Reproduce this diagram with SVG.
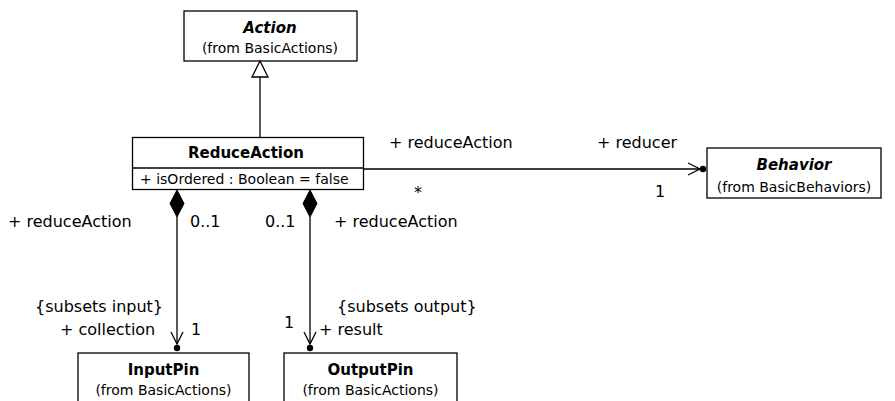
<svg xmlns="http://www.w3.org/2000/svg" width="895" height="401" viewBox="0 0 895 401">
<defs>
<style>
.box{fill:#fff;stroke:#000;stroke-width:1.3}
.ln{fill:none;stroke:#000;stroke-width:1.3}
text{font-family:"DejaVu Sans",Verdana,sans-serif;fill:#000}
.nm{font-size:15px;font-weight:bold;text-anchor:middle}
.ab{font-size:15px;font-weight:bold;font-style:italic;text-anchor:middle}
.fr{font-size:14px;text-anchor:middle}
.at{font-size:14px}
.lb{font-size:16px}
</style>
<marker id="open" markerWidth="16" markerHeight="14" refX="13" refY="7" orient="auto" markerUnits="userSpaceOnUse">
<path d="M1,1 L13,7 L1,13" fill="none" stroke="#000" stroke-width="1.3"/>
</marker>
</defs>
<g id="Action">
<rect class="box" x="184" y="11" width="173" height="50"/>
<text class="ab" x="270" y="33">Action</text>
<text class="fr" x="270" y="53">(from BasicActions)</text>
</g>
<g id="ReduceAction">
<rect class="box" x="132.5" y="137.5" width="231" height="52"/>
<line class="ln" x1="132.5" y1="168" x2="363.5" y2="168"/>
<text class="nm" x="246" y="158">ReduceAction</text>
<text class="at" x="140" y="184">+ isOrdered : Boolean = false</text>
</g>
<g id="Behavior">
<rect class="box" x="707" y="148" width="174" height="50"/>
<text class="ab" x="794" y="170">Behavior</text>
<text class="fr" x="794" y="192">(from BasicBehaviors)</text>
</g>
<g id="InputPin">
<rect class="box" x="78" y="353" width="171" height="60"/>
<text class="nm" x="163.5" y="375">InputPin</text>
<text class="fr" x="163.5" y="395">(from BasicActions)</text>
</g>
<g id="OutputPin">
<rect class="box" x="284" y="353" width="173" height="60"/>
<text class="nm" x="370.5" y="375">OutputPin</text>
<text class="fr" x="370.5" y="395">(from BasicActions)</text>
</g>
<g id="connectors">
<line class="ln" x1="260" y1="77" x2="260" y2="137.5"/>
<path d="M260,61 L252,77 L268,77 Z" fill="#fff" stroke="#000" stroke-width="1.3"/>
<line class="ln" x1="363.5" y1="169" x2="700" y2="169" marker-end="url(#open)"/>
<circle cx="703" cy="169" r="3.2" fill="#000"/>
<line class="ln" x1="177" y1="217" x2="177" y2="344" marker-end="url(#open)"/>
<path d="M177,190 L170,203.5 L177,217 L184,203.5 Z" fill="#000" stroke="#000"/>
<circle cx="177" cy="348" r="3.2" fill="#000"/>
<line class="ln" x1="310" y1="217" x2="310" y2="344" marker-end="url(#open)"/>
<path d="M310,190 L303,203.5 L310,217 L317,203.5 Z" fill="#000" stroke="#000"/>
<circle cx="310" cy="348" r="3.2" fill="#000"/>
<text class="lb" x="389" y="148">+ reduceAction</text>
<text class="lb" x="597" y="148">+ reducer</text>
<text class="lb" x="414" y="198">*</text>
<text class="lb" x="655" y="197">1</text>
<text class="lb" x="8" y="227">+ reduceAction</text>
<text class="lb" x="190" y="227">0..1</text>
<text class="lb" x="265" y="227">0..1</text>
<text class="lb" x="334" y="227">+ reduceAction</text>
<text class="lb" x="35" y="312">{subsets input}</text>
<text class="lb" x="60" y="335">+ collection</text>
<text class="lb" x="191" y="335">1</text>
<text class="lb" x="337" y="312">{subsets output}</text>
<text class="lb" x="284" y="328">1</text>
<text class="lb" x="319" y="335">+ result</text>
</g>
</svg>
